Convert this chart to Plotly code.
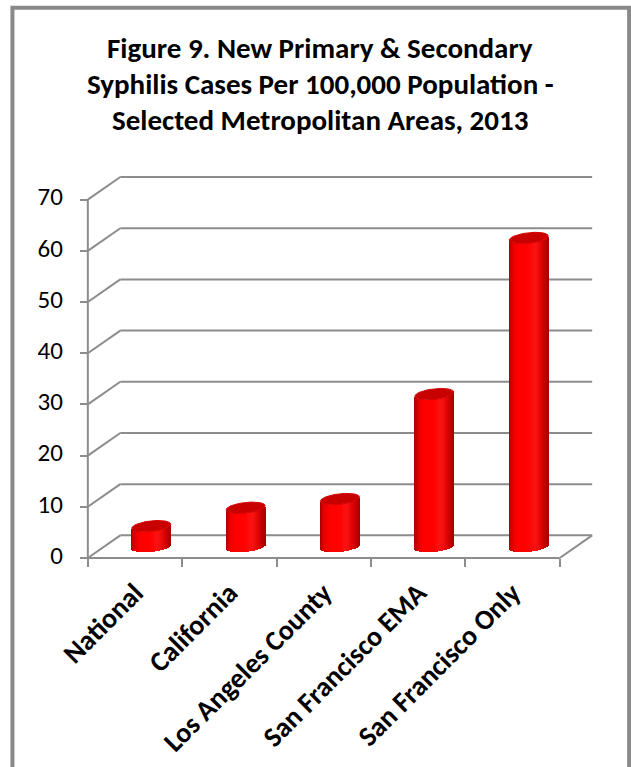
import numpy as np
import plotly.graph_objects as go

# ---------------- data ----------------
categories = ["National", "California", "Los Angeles County",
              "San Francisco EMA", "San Francisco Only"]
rates = [4.0, 7.6, 9.3, 29.8, 60.3]
y_ticks = [0, 10, 20, 30, 40, 50, 60, 70]
title_lines = ["Figure 9. New Primary & Secondary",
               "Syphilis Cases Per 100,000 Population -",
               "Selected Metropolitan Areas, 2013"]

# ---------------- geometry / style ----------------
W, H = 631, 767
X0_PX, Y0_PX = 87.5, 558.3            # front-left-bottom corner of the plot box
PX_CAT, PX_UNIT = 94.5, 5.12          # pixels per category / per value unit
DEPTH_PX = (32.5, 22.6)               # pseudo-3D depth offset
DX = DEPTH_PX[0] / PX_CAT
DY = DEPTH_PX[1] / PX_UNIT
n = len(categories)
YMAX = y_ticks[-1]

xr = [-0.03, n + DX + 0.03]
yr = [-0.4, YMAX + DY + 0.4]
l = X0_PX + xr[0] * PX_CAT
plot_w = (xr[1] - xr[0]) * PX_CAT
r = W - l - plot_w
bottom_px = Y0_PX - yr[0] * PX_UNIT
top_px = Y0_PX - yr[1] * PX_UNIT
b = H - bottom_px
t = top_px
plot_h = bottom_px - top_px

GRID = dict(color="#8c8c8c", width=2)
FONT = "Carlito, Calibri, Lato, sans-serif"

def px_to_paper_x(p):
    return (p - l) / plot_w

def px_to_paper_y(p):
    return (bottom_px - p) / plot_h

fig = go.Figure()

# ---------------- cylinders (bars sliced into shaded stripes) ----------------
a = 19.5 / PX_CAT            # half width (category units)
bb = 5.3 / PX_UNIT           # half height of the elliptical ends (value units)
shear = (4.0 / PX_UNIT) / (2 * a)
centers = [i + 0.5 + DX / 2 for i in range(n)]
K = 36

def shade(u):
    f = abs(u) ** 5 if u < 0 else u ** 2.6
    rr = int(round(255 * (1 - 0.36 * f)))
    gb = int(round(18 * np.exp(-((u - 0.35) / 0.25) ** 2)))
    return f"rgb({rr},{gb},{gb})"

for k in range(K):
    u0 = -1 + 2 * k / K
    u1 = u0 + 2 / K
    uc = (u0 + u1) / 2
    base = DY / 2 - bb * np.sqrt(max(0.0, 1 - uc ** 2)) + shear * uc * a
    wdt = (u1 - u0) * a * (1.3 if k < K - 1 else 1.0)
    fig.add_trace(go.Bar(
        x=centers, y=rates, base=[base] * n,
        offset=u0 * a, width=wdt,
        marker=dict(color=shade(uc), line=dict(width=0)),
        hoverinfo="skip", showlegend=False))

# top caps
th = np.linspace(0, 2 * np.pi, 90)
for xc, v in zip(centers, rates):
    ex = xc + a * np.cos(th)
    ey = v + DY / 2 + bb * np.sin(th) + shear * a * np.cos(th)
    fig.add_trace(go.Scatter(
        x=ex, y=ey, mode="lines", fill="toself",
        fillcolor="rgb(200,0,0)", line=dict(color="rgb(215,0,0)", width=1),
        hoverinfo="skip", showlegend=False))

# invisible trace so the label axis is rendered
fig.add_trace(go.Scatter(x=[0.5], y=[0], xaxis="x2", mode="markers",
                         marker=dict(opacity=0), hoverinfo="skip",
                         showlegend=False))

# ---------------- pseudo-3D walls / gridlines ----------------
shapes = []
for v in y_ticks:
    shapes.append(dict(type="line", xref="x", yref="y", x0=0, y0=v,
                       x1=DX, y1=v + DY, line=GRID, layer="below"))
    shapes.append(dict(type="line", xref="x", yref="y", x0=DX, y0=v + DY,
                       x1=n + DX, y1=v + DY, line=GRID, layer="below"))
shapes.append(dict(type="line", xref="x", yref="y", x0=0, y0=0, x1=0,
                   y1=YMAX, line=GRID, layer="below"))
shapes.append(dict(type="line", xref="x", yref="y", x0=0, y0=0, x1=n,
                   y1=0, line=GRID, layer="below"))
shapes.append(dict(type="line", xref="x", yref="y", x0=n, y0=0, x1=n + DX,
                   y1=DY, line=GRID, layer="below"))
# chart-area border
shapes.append(dict(type="rect", xref="paper", yref="paper",
                   x0=px_to_paper_x(12), x1=px_to_paper_x(629.5),
                   y0=px_to_paper_y(H + 30), y1=px_to_paper_y(8),
                   line=dict(color="#8a8a8a", width=4), layer="below"))

# ---------------- title ----------------
annotations = []
for line, py in zip(title_lines, [48.5, 84.5, 120.0]):
    annotations.append(dict(text=f"<b>{line}</b>", xref="paper", yref="paper",
                            x=px_to_paper_x(320), y=px_to_paper_y(py),
                            xanchor="center", yanchor="middle", showarrow=False,
                            font=dict(family=FONT, size=29, color="black")))

xpos = (0 - yr[0]) / (yr[1] - yr[0])
ypos = (0 - xr[0]) / (xr[1] - xr[0])

fig.update_layout(
    width=W, height=H,
    margin=dict(l=l, r=r, t=t, b=b, autoexpand=False),
    paper_bgcolor="white", plot_bgcolor="rgba(0,0,0,0)",
    barmode="overlay", bargap=0,
    showlegend=False,
    shapes=shapes, annotations=annotations,
    xaxis=dict(range=xr, tickvals=list(range(n + 1)), showticklabels=False,
               ticks="outside", ticklen=8, tickwidth=2, tickcolor="#8c8c8c",
               showgrid=False, zeroline=False, showline=False,
               anchor="free", position=xpos, automargin=False, fixedrange=True),
    xaxis2=dict(range=xr, overlaying="x", side="bottom",
                tickvals=[i + 0.5 for i in range(n)], ticktext=categories,
                tickangle=-45, ticks="", showgrid=False, zeroline=False,
                showline=False, anchor="free", position=xpos,
                ticklabelstandoff=12,
                tickfont=dict(family=FONT, size=28, color="black",
                              weight="bold"),
                automargin=False, fixedrange=True),
    yaxis=dict(range=yr, tickvals=y_ticks, ticks="outside", ticklen=8,
               tickwidth=2, tickcolor="#8c8c8c", showgrid=False,
               zeroline=False, showline=False, anchor="free", position=ypos,
               ticklabelstandoff=12, ticklabelshift=-3,
               tickfont=dict(family=FONT, size=25, color="black"),
               automargin=False, fixedrange=True),
)

fig.write_html("out.html", config={"displayModeBar": False},
               post_script="document.body.style.margin='0';"
                           "document.body.style.overflow='hidden';")
